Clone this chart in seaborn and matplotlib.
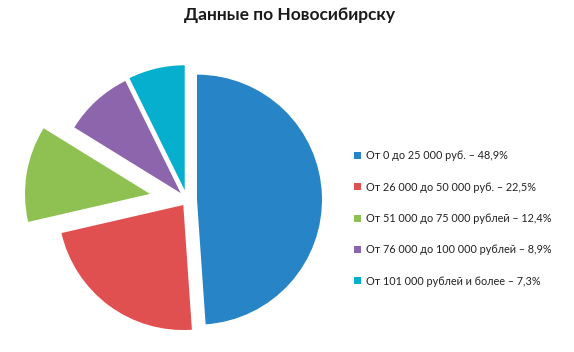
import matplotlib
matplotlib.use("Agg")
import matplotlib.pyplot as plt
import seaborn as sns

title = "Данные по Новосибирску"
labels = [
    "От 0 до 25 000 руб. – 48,9%",
    "От 26 000 до 50 000 руб. – 22,5%",
    "От 51 000 до 75 000 рублей – 12,4%",
    "От 76 000 до 100 000 рублей – 8,9%",
    "От 101 000 рублей и более – 7,3%",
]
values = [48.9, 22.5, 12.4, 8.9, 7.3]
colors = ["#2784C6", "#E15050", "#8FC152", "#8C65AC", "#06AFCE"]
explode = [0.08, 0.05, 0.30, 0.075, 0.08]

sns.set_theme(style="white")
plt.rcParams["font.family"] = ["Lato", "DejaVu Sans"]
palette = sns.color_palette(colors)

W, H = 574, 352
fig = plt.figure(figsize=(W / 100, H / 100), dpi=100)
fig.patch.set_facecolor("white")

R = 125.0
cx, cy = 187.0, 200.0  # pixel coords from top-left
axw = 345.0
ax = fig.add_axes([0, 0, axw / W, 1])

wedges, _ = ax.pie(values, colors=palette, explode=explode, startangle=90,
                   counterclock=False, radius=1.0, center=(0, 0),
                   wedgeprops=dict(linewidth=0), frame=False)
ax.set_xlim(-cx / R, (axw - cx) / R)
ax.set_ylim(-(H - cy) / R, cy / R)
ax.set_aspect("auto")
ax.axis("off")

fig.text(290 / W, 1 - 15 / H, title, ha="center", va="center",
         fontsize=12.5, fontweight="bold", color="#1a1a1a")

fig.legend(wedges, labels, loc="center left",
           bbox_to_anchor=(354 / W, 1 - 218.5 / H), frameon=False,
           fontsize=7.8, labelspacing=1.88, handlelength=0.6, handleheight=0.6,
           handletextpad=0.5, borderpad=0, borderaxespad=0,
           labelcolor="#222222")

fig.savefig("out.png", dpi=100, facecolor="white")
